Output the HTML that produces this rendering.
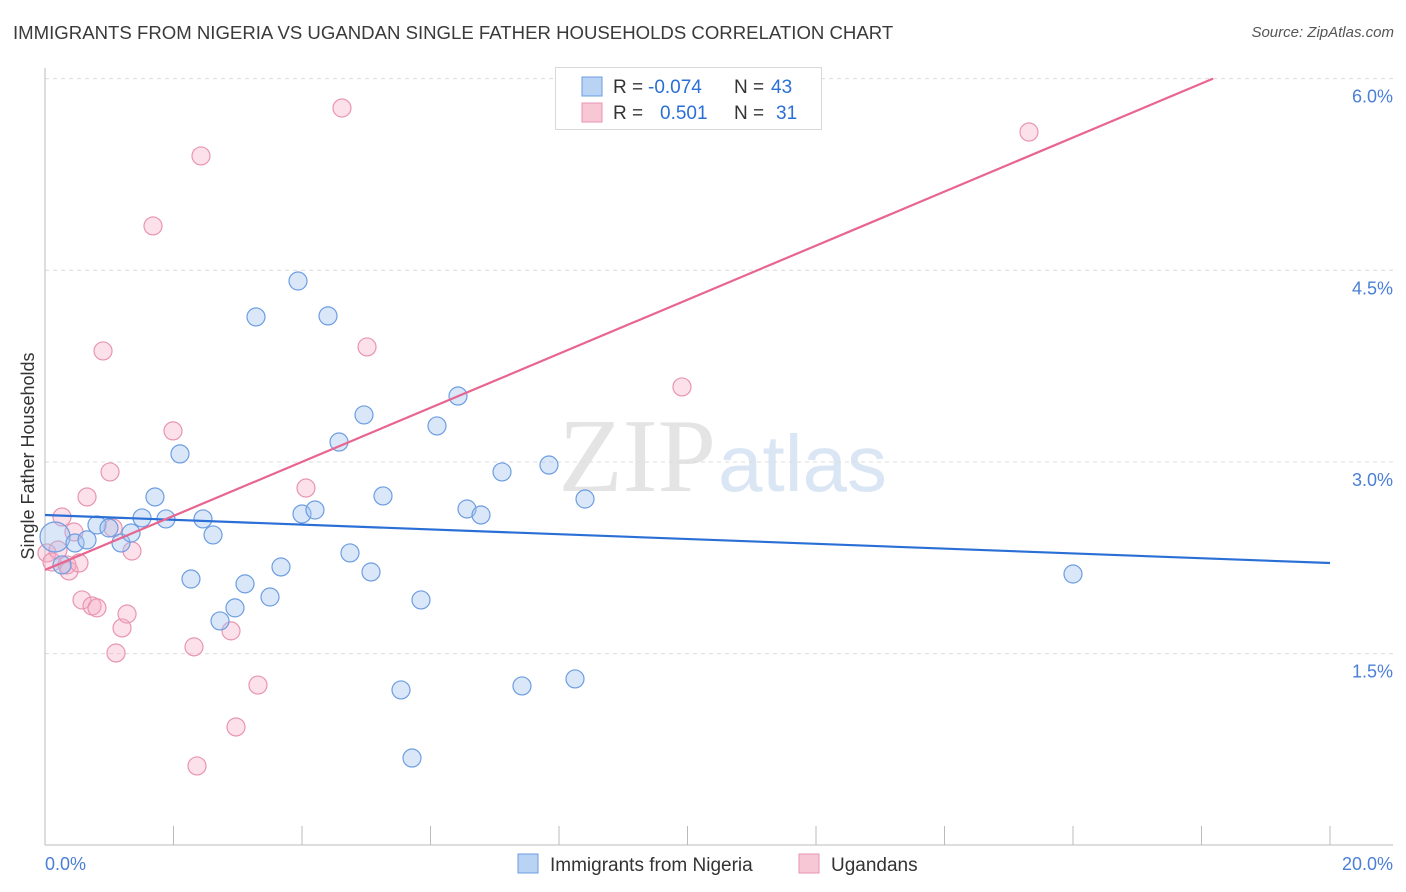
<!DOCTYPE html>
<html><head><meta charset="utf-8">
<style>
body{margin:0;background:#fff;font-family:"Liberation Sans",sans-serif;}
#wrap{position:relative;width:1406px;height:892px;overflow:hidden;}
.title{position:absolute;left:13px;top:22px;font-size:18.6px;color:#3a3a3a;}
.source{position:absolute;right:12px;top:24px;font-size:15px;color:#555;font-style:italic;}
</style></head><body>
<div id="wrap">
<div class="title">IMMIGRANTS FROM NIGERIA VS UGANDAN SINGLE FATHER HOUSEHOLDS CORRELATION CHART</div>
<div class="source">Source: ZipAtlas.com</div>
<svg id="svg" width="1406" height="892" style="position:absolute;left:0;top:0">
<text x="716" y="491" font-size="105" fill="#e4e4e4" font-family="Liberation Serif" text-anchor="end">ZIP</text>
<text x="718" y="491" font-size="80" fill="#dbe6f5" font-family="Liberation Sans">atlas</text>
</svg>
</div>
<script>
const blueX=[0.156,0.265,0.467,0.654,0.809,0.996,1.183,1.339,1.510,1.712,1.883,2.101,2.272,2.459,2.615,2.724,2.957,3.113,3.284,3.502,3.673,3.938,4.000,4.202,4.405,4.576,4.747,4.965,5.074,5.261,5.541,5.712,5.852,6.101,6.428,6.568,6.786,7.113,7.424,7.844,8.249,8.405,16.000];
const blueY=[2.413,2.194,2.366,2.390,2.507,2.483,2.366,2.444,2.562,2.726,2.554,3.063,2.084,2.554,2.429,1.756,1.858,2.046,4.135,1.943,2.178,4.416,2.593,2.624,4.143,3.156,2.288,3.368,2.139,2.734,1.216,0.683,1.920,3.282,3.516,2.632,2.585,2.922,1.247,2.976,1.302,2.710,2.123];
const pinkX=[0.031,0.109,0.202,0.265,0.342,0.374,0.451,0.529,0.576,0.654,0.732,0.809,0.903,1.012,1.059,1.105,1.199,1.277,1.354,1.681,1.992,2.319,2.366,2.428,2.895,2.973,3.315,4.062,4.622,5.012,9.914,15.315];
const pinkY=[2.288,2.217,2.311,2.569,2.194,2.147,2.452,2.209,1.920,2.726,1.873,1.858,3.869,2.922,2.483,1.505,1.701,1.810,2.303,4.847,3.243,1.553,0.621,5.395,1.678,0.926,1.254,2.796,5.770,3.900,3.587,5.582];
const blueTrend=[2.585,-0.0188];
const pinkTrend=[2.155,0.2115];
const yTicks=[1.5,3.0,4.5,6.0];
const yTickLabels=["1.5%","3.0%","4.5%","6.0%"];
const xTicks=[0,2,4,6,8,10,12,14,16,18,20];

const X0=45,X1=1330,Y0=845.3,PPY=127.78;
const sx=v=>X0+(X1-X0)*v/20;
const sy=v=>Y0-v*PPY;
const svg=document.getElementById('svg');
const NS='http://www.w3.org/2000/svg';
function mk(t,a){const e=document.createElementNS(NS,t);for(const k in a)e.setAttribute(k,a[k]);svg.appendChild(e);return e;}

yTicks.forEach((v,i)=>{
 const g=mk('line',{x1:X0,x2:1393,y1:sy(v),y2:sy(v),stroke:'#dcdcdc','stroke-dasharray':'4,4'});
 
 
 const t=mk('text',{x:1393,y:sy(v)+24,'text-anchor':'end','font-size':18,fill:'#4a7fd6'});
 t.textContent=yTickLabels[i];
 
 
});
let ax=mk('line',{x1:X0,x2:X0,y1:68,y2:845,stroke:'#bbb'});


let bx=mk('line',{x1:X0,x2:1393,y1:845,y2:845,stroke:'#bbb'});


xTicks.forEach(v=>{
 const l=mk('line',{x1:sx(v),x2:sx(v),y1:826,y2:845,stroke:'#bbb'});
 
 
});
let xl=mk('text',{x:45,y:870,'font-size':18,fill:'#4a7fd6'});xl.textContent='0.0%';


let xr=mk('text',{x:1393,y:870,'font-size':18,fill:'#4a7fd6','text-anchor':'end'});xr.textContent='20.0%';


let yt=mk('text',{x:34,y:456,'font-size':18,fill:'#333','text-anchor':'middle',transform:'rotate(-90 34 456)'});yt.textContent='Single Father Households';



pinkX.forEach((x,i)=>{
 const c=mk('circle',{cx:sx(x),cy:sy(pinkY[i]),r:9,fill:'rgba(246,170,196,0.35)',stroke:'#e895b2','stroke-width':1.2});
 
 
});
blueX.forEach((x,i)=>{
 const c=mk('circle',{cx:sx(x),cy:sy(blueY[i]),r:i===0?15:9,fill:'rgba(160,196,240,0.4)',stroke:'#6d9de2','stroke-width':1.2});
 
 
});
let bl=mk('line',{x1:sx(0),y1:sy(blueTrend[0]),x2:sx(20),y2:sy(blueTrend[0]+20*blueTrend[1]),stroke:'#2a6fd6','stroke-width':2.2});


let pxEnd=Math.min(20,(6-pinkTrend[0])/pinkTrend[1]);
let pl=mk('line',{x1:sx(0),y1:sy(pinkTrend[0]),x2:sx(pxEnd),y2:sy(pinkTrend[0]+pxEnd*pinkTrend[1]),stroke:'#e8658f','stroke-width':2.2});



let lb=mk('rect',{x:555.5,y:67.5,width:266,height:62,fill:'#fff',stroke:'#d8d8d8'});


[[86,'rgba(160,196,240,0.75)','#6d9de2','-0.074','43'],[112,'rgba(246,180,200,0.75)','#e895b2','0.501','31']].forEach((r,i)=>{
 const s=mk('rect',{x:582,y:r[0]-9,width:20,height:19,fill:r[1],stroke:r[2]});
 
 
 const t=mk('text',{x:613,y:r[0]+7,'font-size':19,fill:'#333'});
 t.innerHTML='R = <tspan fill="#2a6fd6" x="'+(i?660:648)+'">'+r[3]+'</tspan><tspan x="734">N = </tspan><tspan fill="#2a6fd6" x="'+(i?776:771)+'">'+r[4]+'</tspan>';
 
 
});
[[518,'rgba(160,196,240,0.75)','#6d9de2','Immigrants from Nigeria'],[799,'rgba(246,180,200,0.75)','#e895b2','Ugandans']].forEach(r=>{
 const s=mk('rect',{x:r[0],y:854,width:20,height:19,fill:r[1],stroke:r[2]});
 
 
 const t=mk('text',{x:r[0]+32,y:871,'font-size':19,fill:'#333'});
 t.textContent=r[3];
 
 
});
</script>
</body></html>
